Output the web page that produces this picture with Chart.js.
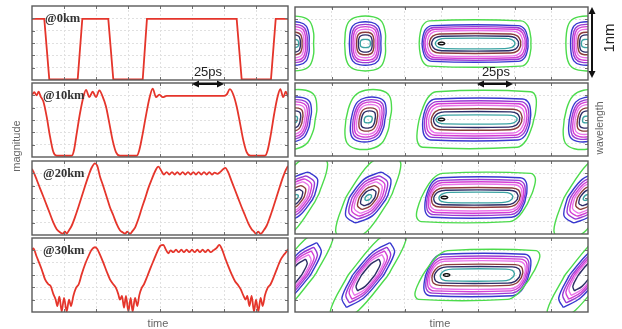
<!DOCTYPE html>
<html>
<head>
<meta charset="utf-8">
<script src="https://cdn.jsdelivr.net/npm/chart.js@4.4.0/dist/chart.umd.min.js"></script>
<style>
  body { margin: 0; background: #fff; width: 622px; height: 329px; position: relative; overflow: hidden; }
  .panel { position: absolute; }
  svg { position: absolute; left: 0; top: 0; pointer-events: none; }
</style>
</head>
<body>
<div class="panel" style="left:31px;top:5px;width:258px;height:76px"><canvas id="c0"></canvas></div>
<div class="panel" style="left:31px;top:82px;width:258px;height:76px"><canvas id="c1"></canvas></div>
<div class="panel" style="left:31px;top:160px;width:258px;height:76px"><canvas id="c2"></canvas></div>
<div class="panel" style="left:31px;top:237px;width:258px;height:76px"><canvas id="c3"></canvas></div>
<div class="panel" style="left:294px;top:6px;width:295px;height:75px"><canvas id="s0"></canvas></div>
<div class="panel" style="left:294px;top:82px;width:295px;height:75px"><canvas id="s1"></canvas></div>
<div class="panel" style="left:294px;top:160px;width:295px;height:75px"><canvas id="s2"></canvas></div>
<div class="panel" style="left:294px;top:237px;width:295px;height:76px"><canvas id="s3"></canvas></div>

<svg width="622" height="329">
  <g font-family="'Liberation Serif', serif" font-weight="bold" font-size="12.5" fill="#333">
    <text x="45" y="21.5">@0km</text>
    <text x="43" y="99">@10km</text>
    <text x="43" y="177">@20km</text>
    <text x="43" y="254">@30km</text>
  </g>
  <g font-family="Arial, 'Liberation Sans', sans-serif" fill="#222">
    <text x="208" y="76" font-size="13" text-anchor="middle">25ps</text>
    <text x="496" y="76" font-size="13" text-anchor="middle">25ps</text>
    <text transform="translate(614,38) rotate(-90)" font-size="15" text-anchor="middle">1nm</text>
  </g>
  <g font-family="Arial, 'Liberation Sans', sans-serif" fill="#666" font-size="11">
    <text transform="translate(20,146) rotate(-90)" text-anchor="middle">magnitude</text>
    <text transform="translate(603,128) rotate(-90)" text-anchor="middle" font-size="10.5">wavelength</text>
    <text x="158" y="327" text-anchor="middle">time</text>
    <text x="440" y="327" text-anchor="middle">time</text>
  </g>
  <g stroke="#111" stroke-width="2" fill="#111">
    <line x1="197" y1="84" x2="219" y2="84"/>
    <polygon points="192,84 199,80.5 199,87.5" stroke="none"/>
    <polygon points="224,84 217,80.5 217,87.5" stroke="none"/>
    <line x1="482" y1="84" x2="508" y2="84"/>
    <polygon points="477,84 484,80.5 484,87.5" stroke="none"/>
    <polygon points="513,84 506,80.5 506,87.5" stroke="none"/>
    <line x1="592" y1="12" x2="592" y2="73"/>
    <polygon points="592,7 588.5,14 595.5,14" stroke="none"/>
    <polygon points="592,78 588.5,71 595.5,71" stroke="none"/>
  </g>
</svg>

<script>
// time axis in ps, one grid step = 25 ps
const timeTicks = [25, 50, 75, 100, 125, 150, 175];
const magTicks = [0.2, 0.4, 0.6, 0.8, 1.0];
const waveTicks = [-1 / 3, 0, 1 / 3];

// @0km
const t0 = [0, 9.6, 13.5, 35.7, 39.3, 59.6, 63.5, 86.5, 89.8, 159.9, 163.8, 186.7, 190.4, 200];
const m0 = [0.99, 0.99, 0.01, 0.01, 0.99, 0.99, 0.01, 0.01, 0.99, 0.99, 0.01, 0.01, 0.99, 0.99];

// @10km
const t10 = [0, 1.8, 3.6, 5.2, 6.8, 8.9, 11.5, 14.1, 16.7, 19.3, 31, 32.8, 34.9, 37.5, 40.1,
  42.2, 44.8, 47.4, 50, 52.6, 55.2, 57.8, 60.4, 63, 65.6, 68.7, 81.8, 83.8, 86.5, 89.1,
  91.7, 94.3, 96.9, 99.5, 102.1, 105.2, 149.5, 152, 154.6, 157.3, 159.9, 162.5, 165.1, 167.7, 170.8,
  182, 184.1, 186.7, 189.3, 191.9, 194, 196.3, 198.2, 200];
const m10 = [1.01, 1.05, 1.0, 1.06, 0.98, 0.9, 0.65, 0.33, 0.08, 0.02, 0.02, 0.11, 0.38, 0.71, 0.97,
  1.09, 0.97, 1.06, 0.97, 1.08, 0.98, 0.82, 0.55, 0.27, 0.08, 0.02, 0.02, 0.11, 0.38, 0.68,
  0.95, 1.11, 0.97, 1.01, 0.97, 0.99, 0.99, 1.01, 1.10, 1.01, 0.82, 0.55, 0.27, 0.08, 0.02,
  0.02, 0.11, 0.38, 0.71, 0.98, 1.10, 0.97, 1.06, 0.98];

// @20km
const t20 = [0, 1.0, 3.6, 6.2, 8.9, 11.5, 14.1, 16.7, 19.3, 21.9,
  24.0, 25.8, 27.1, 28.6, 31.0, 33.6, 36.2, 38.8, 41.4, 44.0,
  46.6, 49.2, 51.0, 53.1, 55.7, 58.3, 60.9, 63.5, 66.1, 68.7,
  70.8, 72.7, 74.5, 76.6, 78.6, 80.5, 83.1, 85.7, 88.3, 90.9,
  93.5, 96.1, 98.7, 101.3, 103.1, 105.2, 107.3, 109.4, 111.5, 113.5,
  115.6, 117.7, 119.8, 121.9, 124.0, 126.0, 128.1, 130.2, 132.3, 134.4,
  136.5, 138.5, 140.6, 142.7, 144.8, 146.9, 149.5, 151.0, 153.4, 156.0,
  158.6, 161.2, 163.8, 166.4, 169.0, 171.6, 173.4, 175.0, 176.8, 178.6,
  180.7, 183.3, 185.9, 188.5, 191.1, 193.7, 196.3, 198.4, 200];
const m20 = [1.07, 1.03, 0.90, 0.76, 0.62, 0.48, 0.34, 0.20, 0.094, 0.044,
  0.022, 0.055, 0.022, 0.066, 0.15, 0.29, 0.45, 0.62, 0.79, 0.95,
  1.09, 1.16, 1.12, 0.95, 0.79, 0.62, 0.45, 0.32, 0.18, 0.077,
  0.044, 0.022, 0.055, 0.017, 0.066, 0.12, 0.26, 0.43, 0.59, 0.76,
  0.90, 1.03, 1.11, 1.03, 0.98, 1.02, 0.98, 1.02, 0.98, 1.02,
  0.98, 1.02, 0.98, 1.02, 0.98, 1.02, 0.98, 1.02, 0.98, 1.02,
  0.98, 1.02, 0.98, 1.01, 0.99, 1.02, 1.07, 1.09, 1.01, 0.87,
  0.73, 0.59, 0.45, 0.32, 0.19, 0.094, 0.055, 0.022, 0.055, 0.017,
  0.066, 0.15, 0.29, 0.45, 0.62, 0.79, 0.95, 1.06, 1.12];

// @30km
const t30 = [0, 1.0, 3.6, 7.6, 10.2, 12.8, 14.6, 16.7, 18.5, 19.8,
  21.4, 23.2, 25.0, 27.1, 28.9, 30.5, 32.3, 34.4, 36.5, 38.8,
  41.4, 44.0, 46.6, 49.2, 51.0, 53.1, 55.7, 58.3, 60.9, 63.5,
  65.6, 67.4, 68.7, 70.3, 71.9, 73.4, 75.3, 77.1, 78.6, 80.5,
  82.3, 83.8, 85.7, 87.5, 90.1, 92.7, 95.3, 97.9, 100.5, 102.6,
  104.4, 106.5, 108.3, 110.4, 112.5, 114.6, 116.7, 118.7, 120.8, 122.9,
  125.0, 127.1, 129.2, 131.2, 133.3, 135.4, 137.5, 139.6, 141.7, 144.3,
  146.3, 148.4, 150.8, 153.4, 156.0, 158.6, 161.2, 163.0, 165.1, 166.9,
  168.2, 169.8, 171.6, 173.4, 175.0, 176.8, 178.6, 180.2, 182.0, 184.1,
  186.4, 189.1, 191.7, 194.3, 196.9, 198.9, 200];
const m30 = [1.01, 1.03, 0.90, 0.69, 0.53, 0.45, 0.42, 0.29, 0.20, 0.097,
  0.25, 0.01, 0.23, 0.01, 0.20, 0.097, 0.26, 0.39, 0.45, 0.61,
  0.77, 0.90, 1.01, 1.05, 1.02, 0.93, 0.80, 0.66, 0.53, 0.45,
  0.39, 0.29, 0.20, 0.26, 0.07, 0.26, 0.01, 0.23, 0.01, 0.23,
  0.097, 0.27, 0.39, 0.45, 0.58, 0.72, 0.85, 0.98, 1.08, 1.09,
  1.02, 0.95, 1.00, 0.97, 1.01, 0.97, 1.01, 0.97, 1.01, 0.97,
  1.01, 0.97, 1.01, 0.97, 1.01, 0.97, 1.01, 0.97, 1.00, 1.04,
  1.09, 1.02, 0.88, 0.74, 0.61, 0.50, 0.43, 0.37, 0.27, 0.20,
  0.26, 0.097, 0.26, 0.01, 0.20, 0.01, 0.23, 0.097, 0.27, 0.39,
  0.45, 0.58, 0.72, 0.85, 0.93, 0.98, 1.02];

// spectrogram contours, outer to inner: green, blue, violet, magenta, pink, brown, navy, teal
// single-bit blobs: centre times (ps), half widths (ps), half heights (nm)
const bitCentres = [[-1, 48, 199], [-1, 50, 199], [0, 50, 199], [0, 50, 198]];
const bitHalfT = [
  [13.7, 10.6, 9.3, 8.2, 7.0, 5.8, 4.6, 3.4],
  [14.8, 11.4, 10.0, 8.8, 7.5, 6.0, 4.6, 2.6],
  [15.0, 12.6, 10.8, 9.2, 7.8, 6.0, 4.4, 2.0],
  [13.5, 10.5, 8.8, 7.4, 6.2, null, 4.5, null]];
const bitHalfL = [
  [0.365, 0.29, 0.255, 0.225, 0.19, 0.15, 0.115, 0.055],
  [0.40, 0.30, 0.265, 0.235, 0.20, 0.155, 0.115, 0.045],
  [0.62, 0.34, 0.29, 0.25, 0.21, 0.16, 0.11, 0.04],
  [0.66, 0.43, 0.37, 0.32, 0.27, null, 0.21, null]];
// three-bit blob
const longCentres = [123, 124, 123.5, 124.5];
const longHalfT = [
  [38, 36, 35, 34, 32.5, 31, 29.5, 27],
  [39, 36.5, 35.3, 34, 32.5, 30.8, 29.2, 27.5],
  [37, 34, 33, 32, 31, 30, 28.5, 25],
  [37, 35, 34, 33, 32, 30.5, 29, 25]];
const longHalfL = [
  [0.31, 0.245, 0.22, 0.195, 0.17, 0.13, 0.10, 0.07],
  [0.38, 0.28, 0.245, 0.215, 0.185, 0.14, 0.105, 0.06],
  [0.33, 0.27, 0.235, 0.205, 0.175, 0.13, 0.10, 0.07],
  [0.33, 0.28, 0.245, 0.215, 0.185, 0.14, 0.11, 0.08]];
// small dark core near the leading edge of the long blob (ps from its centre)
const coreOffset = [-23, -24, -21.5, -21];
// time shift per nm of wavelength (chirp), single bits and long blob
const bitChirp = [0, 8, 25, 34];
const longChirp = [0, 6, 11, 15];

const levelColors = ['#4cdb4c', '#3838cf', '#9a3ad4', '#d43fd4', '#ea74ea', '#8c3c3c', '#2c2c66', '#3ba3a3'];
const bitRound = [0.6, 0.65, 0.9, 0.95];

const framePlugin = {
  id: 'frame',
  afterDraw(chart) {
    const { ctx, chartArea: a, scales } = chart;
    ctx.save();
    ctx.strokeStyle = '#707070';
    ctx.lineWidth = 1;
    ctx.beginPath();
    scales.x.ticks.forEach(t => {
      const px = Math.round(scales.x.getPixelForValue(t.value)) + 0.5;
      ctx.moveTo(px, a.top); ctx.lineTo(px, a.top + 3);
      ctx.moveTo(px, a.bottom); ctx.lineTo(px, a.bottom - 3);
    });
    scales.y.ticks.forEach(t => {
      const py = Math.round(scales.y.getPixelForValue(t.value)) + 0.5;
      ctx.moveTo(a.left, py); ctx.lineTo(a.left + 3, py);
      ctx.moveTo(a.right, py); ctx.lineTo(a.right - 3, py);
    });
    ctx.stroke();
    ctx.strokeStyle = '#5a5a5a';
    ctx.lineWidth = 1.4;
    ctx.strokeRect(a.left, a.top, a.right - a.left, a.bottom - a.top);
    ctx.restore();
  }
};

function axis(min, max, ticks) {
  return {
    type: 'linear', min, max,
    afterBuildTicks: s => { s.ticks = ticks.map(v => ({ value: v })); },
    ticks: { display: false },
    grid: { color: '#e0e0e0', drawTicks: false, lineWidth: 1 },
    border: { display: false, dash: [2, 2] }
  };
}

function baseOptions(ymin, ymax, yticks) {
  return {
    animation: false,
    responsive: true,
    maintainAspectRatio: false,
    layout: { padding: 1 },
    plugins: { legend: { display: false }, tooltip: { enabled: false } },
    elements: { point: { radius: 0 }, line: { capBezierPoints: false } },
    scales: { x: axis(0, 200, timeTicks), y: axis(ymin, ymax, yticks) }
  };
}

const waves = [[t0, m0], [t10, m10], [t20, m20], [t30, m30]];
waves.forEach(([t, m], i) => {
  new Chart(document.getElementById('c' + i), {
    type: 'scatter',
    data: {
      datasets: [{
        data: t.map((x, k) => ({ x, y: m[k] })),
        showLine: true,
        borderColor: '#e5352b',
        borderWidth: 1.8,
        cubicInterpolationMode: i === 0 ? 'default' : 'monotone',
        tension: 0
      }]
    },
    options: baseOptions(0, 1.2, magTicks),
    plugins: [framePlugin]
  });
});

// closed rounded outline of one contour level, sheared by the chirp
function outline(cx, a, b, k, r, cap) {
  const rx = Math.min(a, cap) * r, ry = b * r;
  const q = [[a, 0], [a, b - ry], [a - 0.3 * rx, b - 0.3 * ry], [a - rx, b],
    [-(a - rx), b], [-(a - 0.3 * rx), b - 0.3 * ry], [-a, b - ry],
    [-a, -(b - ry)], [-(a - 0.3 * rx), -(b - 0.3 * ry)], [-(a - rx), -b],
    [a - rx, -b], [a - 0.3 * rx, -(b - 0.3 * ry)], [a, -(b - ry)], [a, 0]];
  return q.map(([x, y]) => ({ x: cx + x + k * y, y }));
}

function contourSet(row) {
  const sets = [];
  const add = (pts, color) => sets.push({
    data: pts, showLine: true, borderColor: color, borderWidth: 1.4, tension: 0.35
  });
  levelColors.forEach((color, lv) => {
    bitCentres[row].forEach(c => {
      const a = bitHalfT[row][lv], b = bitHalfL[row][lv];
      if (a !== null) add(outline(c, a, b, bitChirp[row], bitRound[row], 99), color);
    });
    // the outermost level trails further out along the chirp
    const k = lv === 0 ? longChirp[row] * 2 : longChirp[row];
    add(outline(longCentres[row], longHalfT[row][lv], longHalfL[row][lv], k, 0.75, 9), color);
  });
  add(outline(longCentres[row] + coreOffset[row], 2.2, 0.018, 0, 0.9, 99), '#111');
  return sets;
}

for (let i = 0; i < 4; i++) {
  new Chart(document.getElementById('s' + i), {
    type: 'scatter',
    data: { datasets: contourSet(i) },
    options: baseOptions(-0.5, 0.5, waveTicks),
    plugins: [framePlugin]
  });
}
</script>
</body>
</html>
